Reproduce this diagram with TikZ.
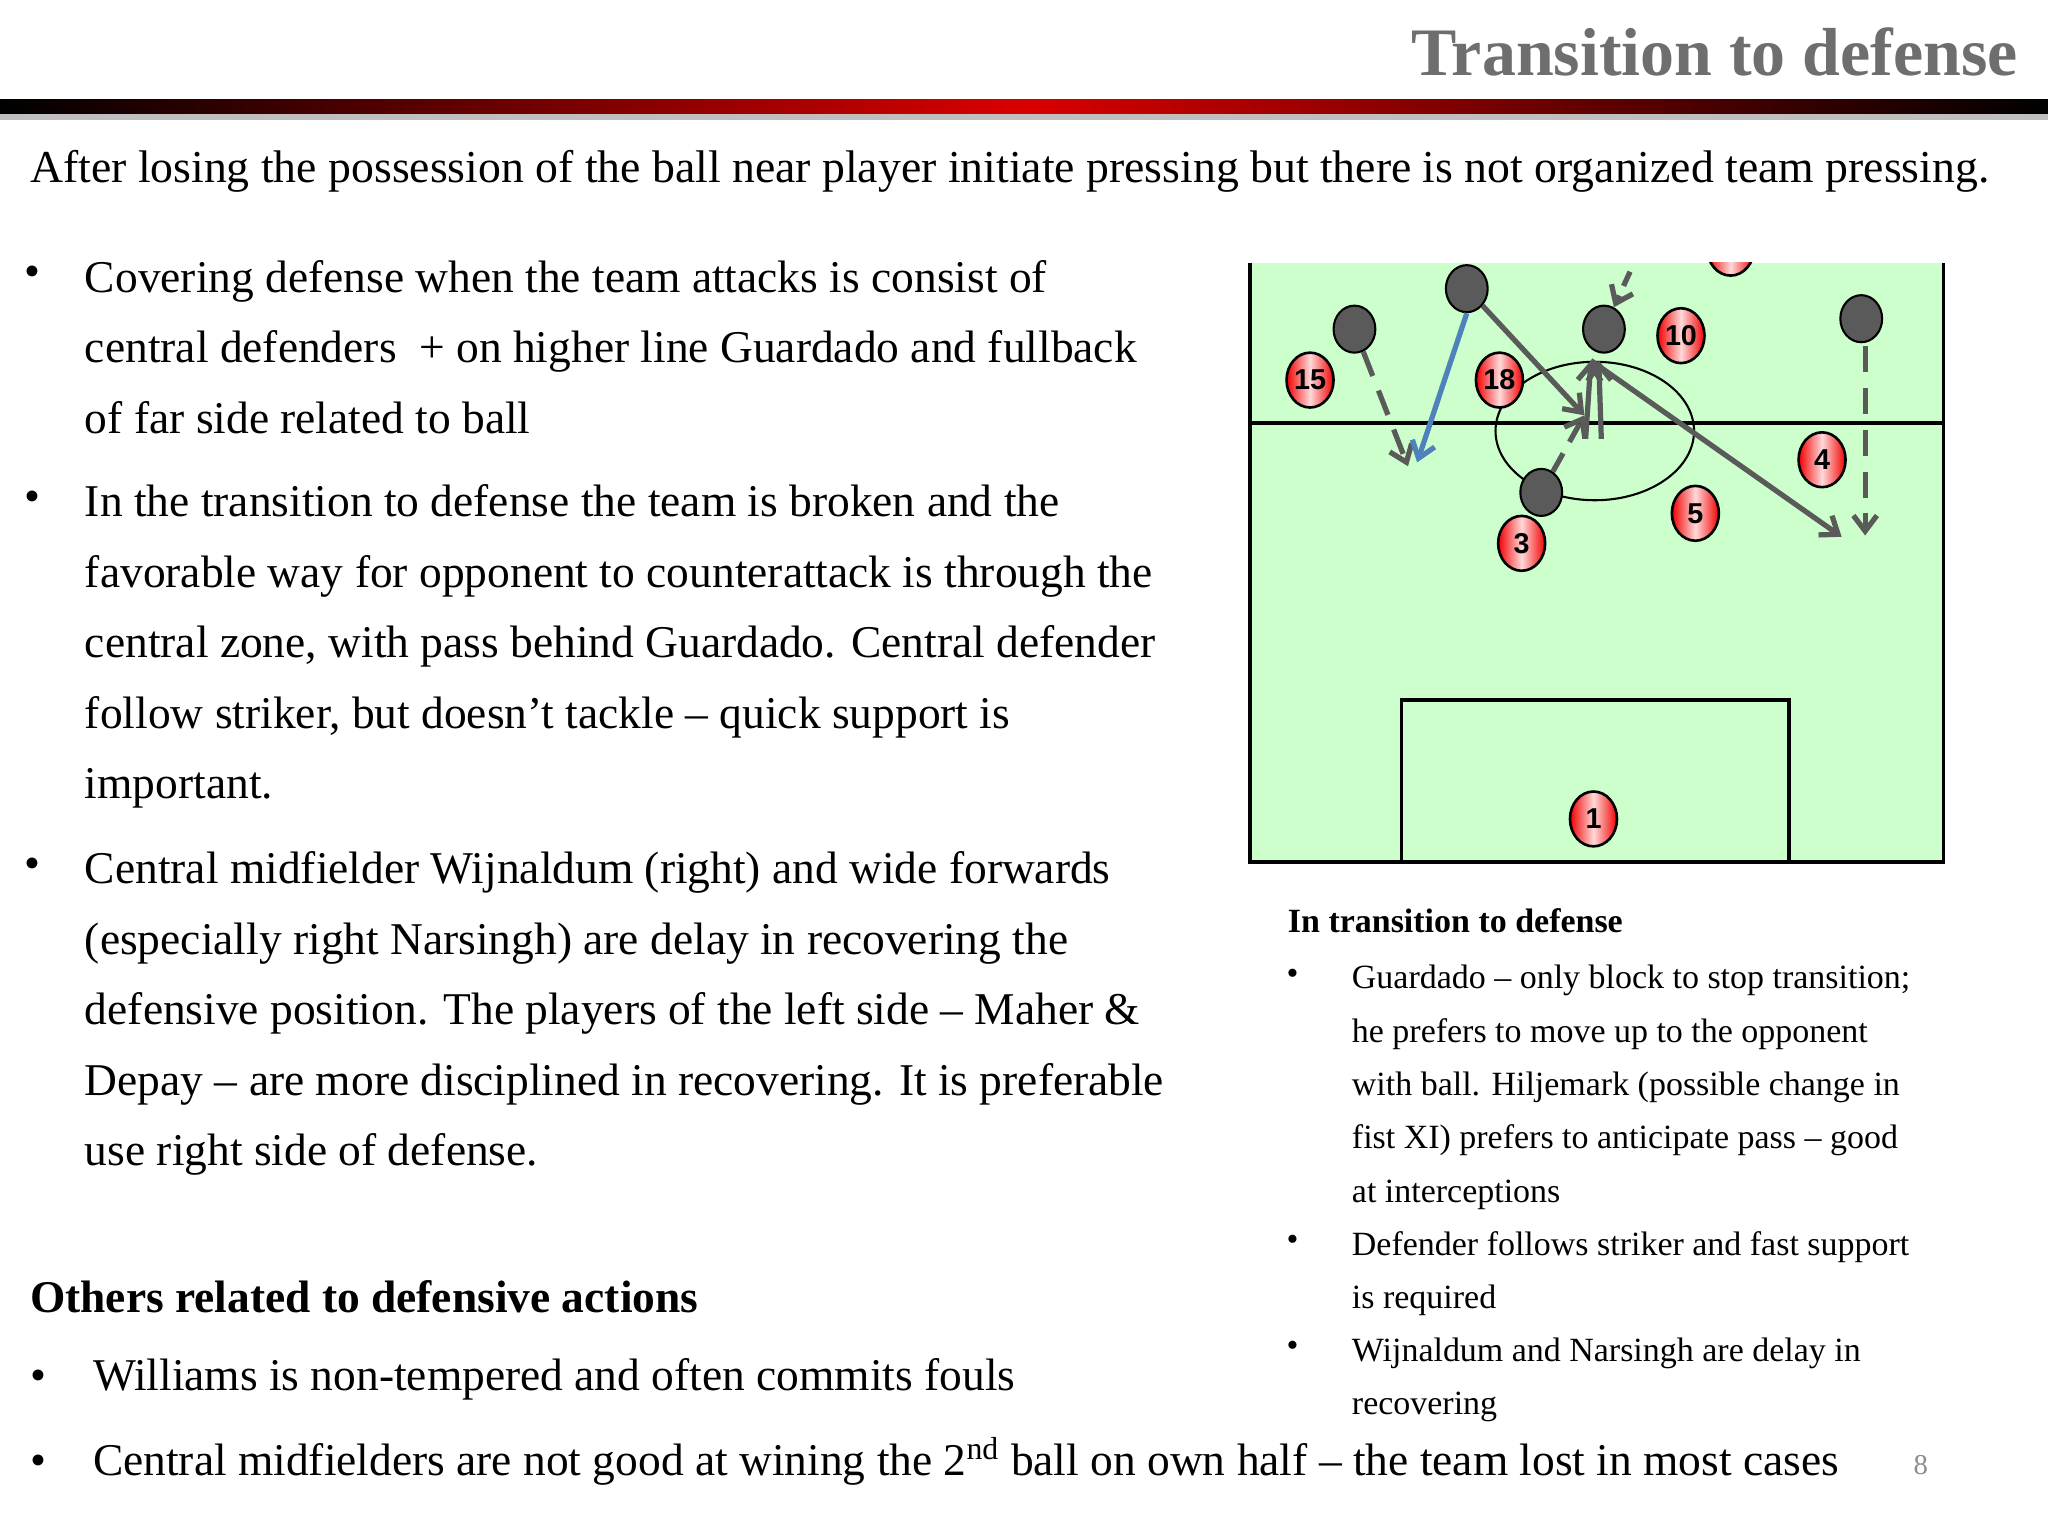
\documentclass[tikz,border=0pt]{standalone}
\usepackage{fontspec}
\setmainfont{Liberation Serif}
\newfontfamily\pf{Liberation Sans}
\usetikzlibrary{arrows.meta,shapes.geometric}
\definecolor{pitch}{RGB}{204,255,204}
\definecolor{ttl}{RGB}{110,110,110}
\definecolor{arr}{RGB}{90,90,90}
\definecolor{blu}{RGB}{79,129,189}
\tikzset{
 redp/.style={ellipse,draw=black,line width=1pt,inner sep=0pt,minimum width=18pt,minimum height=21pt,left color=red!95!black,right color=red!95!black,middle color=red!15,font=\pf\bfseries\fontsize{11}{11}\selectfont},
 greyp/.style={ellipse,draw=black,line width=0.8pt,fill=arr,minimum width=16pt,minimum height=18pt,inner sep=0pt},
 mv/.style={draw=arr,line width=2pt,-{Straight Barb[length=6pt,width=9pt]}},
 body/.style={anchor=north west,align=left,font=\fontsize{17.4}{27}\selectfont},
 small/.style={anchor=north west,align=left,font=\fontsize{13}{20.4}\selectfont}
}
\begin{document}
\begin{tikzpicture}[x=0.5pt,y=-0.5pt]
\useasboundingbox (0,0) rectangle (1568,1176);
\fill[white] (0,0) rectangle (1568,1176);
\node[anchor=east,text=ttl,font=\bfseries\fontsize{26}{26}\selectfont] (title) at (1552,40) {Transition to defense};
\fill[black!25] (0,86) rectangle (1568,92);
\shade[left color=black,right color=black,middle color=red!85!black] (0,76) rectangle (1568,87);
\node[anchor=west,font=\fontsize{17.5}{17.5}\selectfont] (intro) at (16,131) {After losing the possession of the ball near player initiate pressing but there is not organized team pressing.};
\node[body] (b1) at (12,197) {\textbullet};
\node[body] (t1) at (58,192) {Covering defense when the team attacks is consist of\\central defenders \ + on higher line Guardado and fullback\\of far side related to ball};
\node[body] (b2) at (12,369) {\textbullet};
\node[body] (t2) at (58,364) {In the transition to defense the team is broken and the\\favorable way for opponent to counterattack is through the\\central zone, with pass behind Guardado. Central defender\\follow striker, but doesn’t tackle -- quick support is\\important.};
\node[body] (b3) at (12,650) {\textbullet};
\node[body] (t3) at (58,645) {Central midfielder Wijnaldum (right) and wide forwards\\(especially right Narsingh) are delay in recovering the\\defensive position. The players of the left side -- Maher \&\\Depay -- are more disciplined in recovering. It is preferable\\use right side of defense.};
\node[anchor=west,font=\bfseries\fontsize{17.4}{17.4}\selectfont] (oth) at (16,993) {Others related to defensive actions};
\node[anchor=west,font=\fontsize{17.4}{17.4}\selectfont] (w1) at (16,1056) {\textbullet\hspace{18pt}Williams is non-tempered and often commits fouls};
\node[anchor=west,font=\fontsize{17.4}{17.4}\selectfont] (w2) at (16,1119) {\textbullet\hspace{18pt}Central midfielders are not good at wining the 2\textsuperscript{nd} ball on own half -- the team lost in most cases};
\node[anchor=west,text=black!45,font=\fontsize{11}{11}\selectfont] (pg) at (1458,1122) {8};
% pitch
\begin{scope}
\clip (957,201) rectangle (1490,662);
\fill[pitch] (957,201) rectangle (1488,660);
\node[redp] (r0) at (1325,190) {};
\end{scope}
\draw[line width=1.5pt] (957,201) -- (957,660) -- (1488,660) -- (1488,201);
\draw[line width=1.5pt] (957,324) -- (1488,324);
\draw[line width=1.5pt] (1073,660) -- (1073,536) -- (1370,536) -- (1370,660);
\draw[line width=0.8pt] (1221,330) ellipse [x radius=76,y radius=53];
\node[redp] (p15) at (1003,291) {15};
\node[redp] (p18) at (1148,291) {18};
\node[redp] (p10) at (1287,257) {10};
\node[redp] (p4) at (1395,352) {4};
\node[redp] (p5) at (1298,393) {5};
\node[redp] (p3) at (1165,416) {3};
\node[redp] (p1) at (1220,627) {1};
\node[greyp] (g1) at (1037,252) {};
\node[greyp] (g2) at (1123,221) {};
\node[greyp] (g3) at (1228,252) {};
\node[greyp] (g4) at (1180,377) {};
\node[greyp] (g5) at (1425,244) {};
\coordinate (e1) at (1078,357);
\coordinate (e2) at (1085,354);
\coordinate (e3) at (1213,318);
\coordinate (e4) at (1410,411);
\coordinate (e5) at (1428,410);
\coordinate (s5) at (1428,265);
\coordinate (s6) at (1248,208);
\coordinate (e7) at (1213,318);
\coordinate (s8) at (1214,336);
\coordinate (e8) at (1218,276);
\draw[mv,dashed,dash pattern=on 10pt off 6pt] (g1) -- (e1);
\draw[mv,draw=blu] (g2.south) -- (e2);
\draw[mv] (g2) -- (e3);
\draw[mv] (e8) -- (e4);
\draw[mv,dashed,dash pattern=on 10pt off 6pt] (s5) -- (e5);
\draw[mv,dashed,dash pattern=on 6pt off 4pt] (s6) -- (g3);
\draw[mv,dashed,dash pattern=on 8pt off 5pt] (g4) -- (e7);
\draw[mv] (s8) -- (e8);
\draw[mv] ([xshift=6]s8) -- ([xshift=3]e8);
% notes
\node[anchor=west,font=\bfseries\fontsize{13}{13}\selectfont] (nh) at (979,705) {In transition to defense};
\node[small] (n1b) at (978,735) {\textbullet};
\node[small] (n1) at (1028,732) {Guardado -- only block to stop transition;\\he prefers to move up to the opponent\\with ball. Hiljemark (possible change in\\fist XI) prefers to anticipate pass -- good\\at interceptions};
\node[small] (n2b) at (978,939) {\textbullet};
\node[small] (n2) at (1028,936) {Defender follows striker and fast support\\is required};
\node[small] (n3b) at (978,1020) {\textbullet};
\node[small] (n3) at (1028,1017) {Wijnaldum and Narsingh are delay in\\recovering};
\end{tikzpicture}
\end{document}
